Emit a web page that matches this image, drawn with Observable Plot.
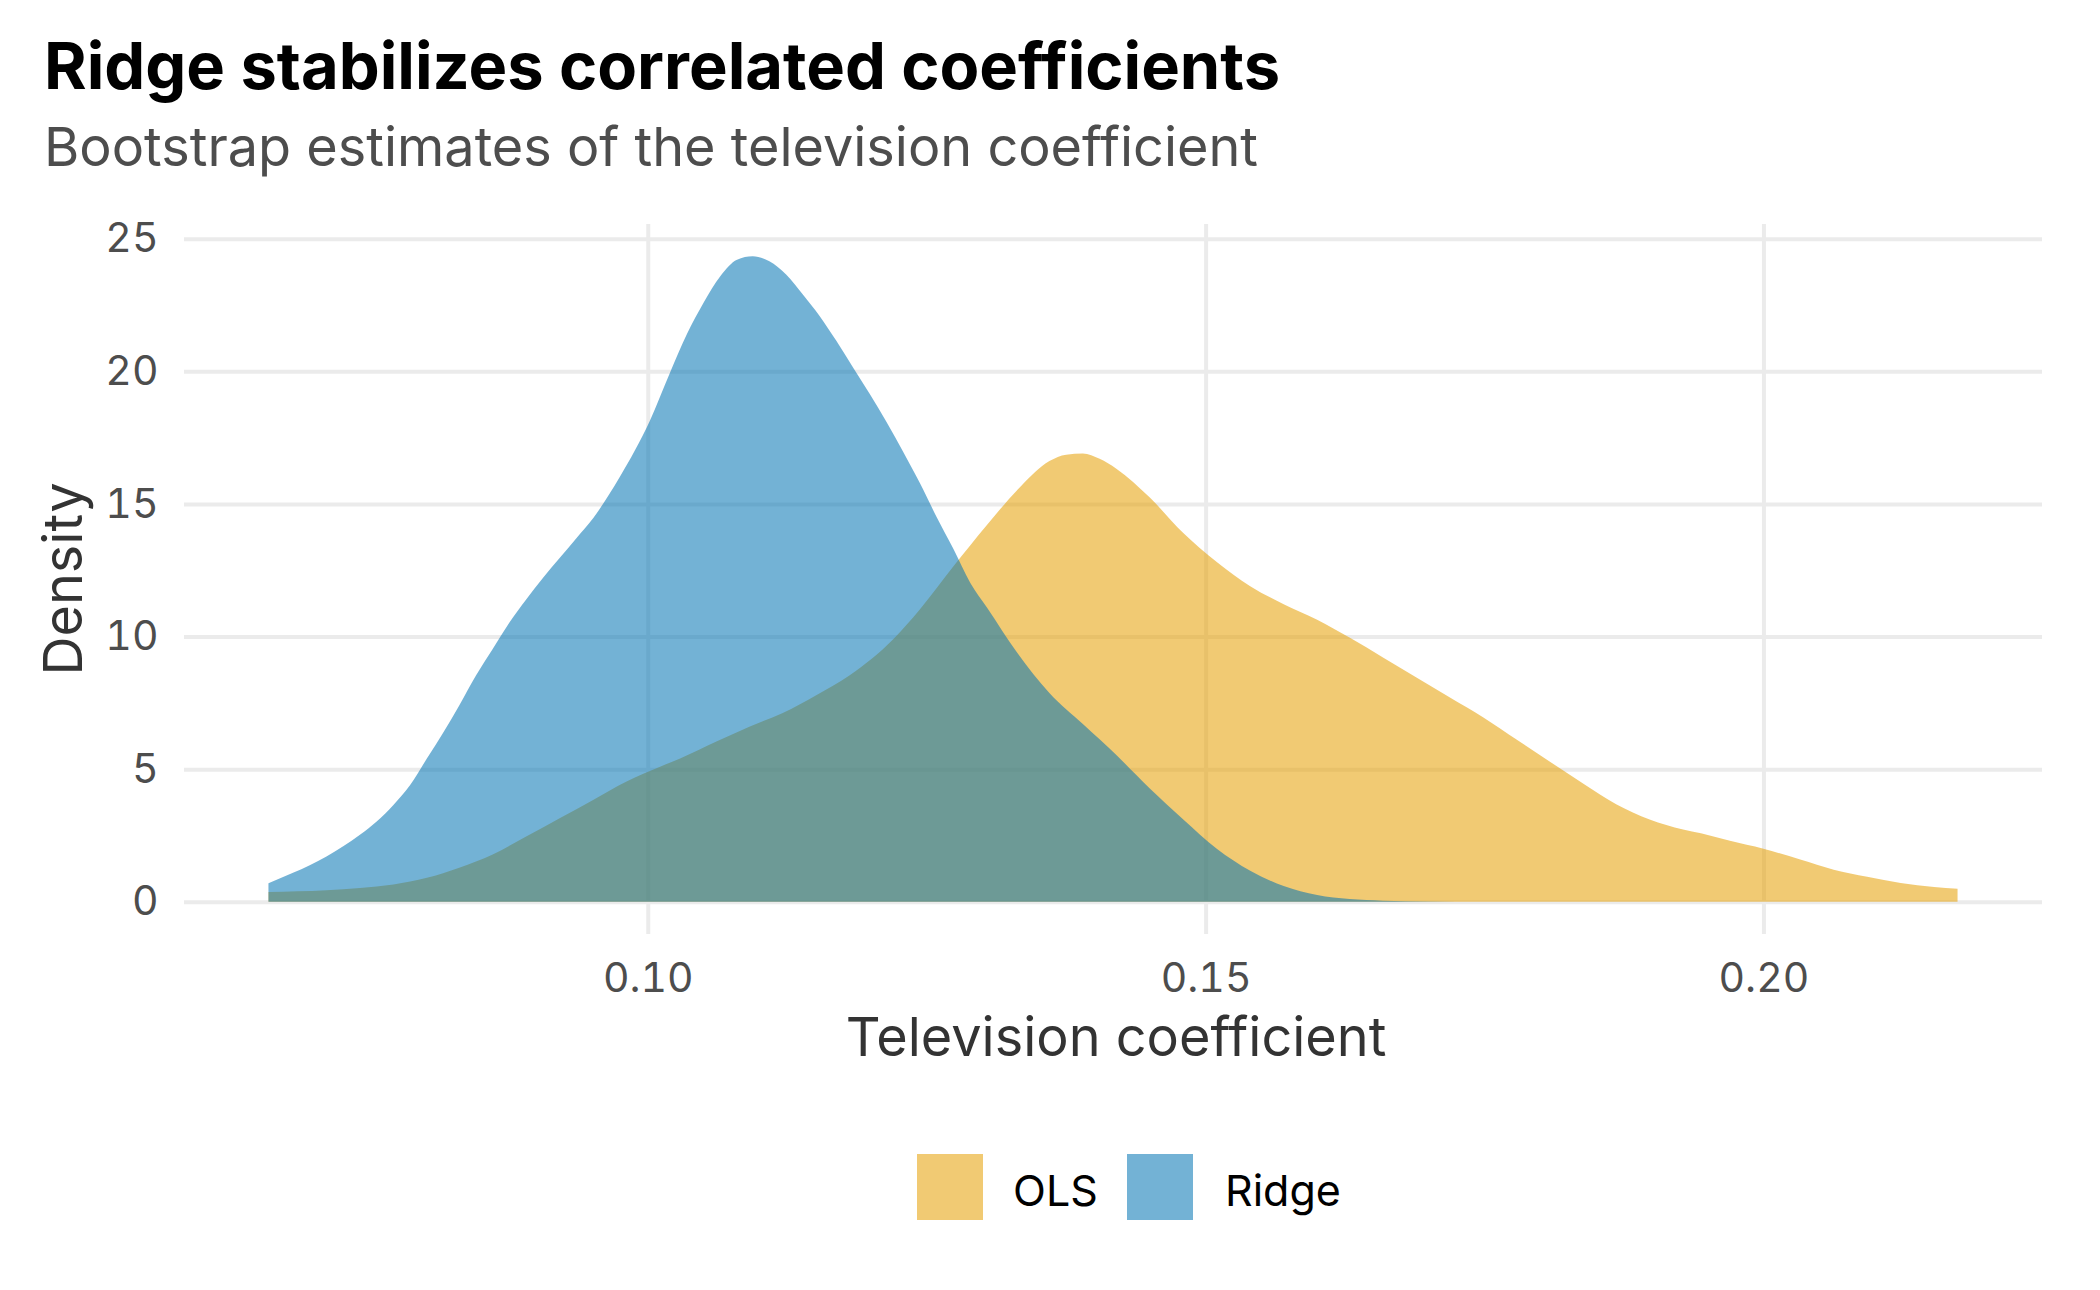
<!DOCTYPE html>
<html>
<head>
<meta charset="utf-8">
<script src="https://cdn.jsdelivr.net/npm/d3@7"></script>
<script src="https://cdn.jsdelivr.net/npm/@observablehq/plot@0.6"></script>
<style>
  html, body { margin: 0; padding: 0; background: #ffffff; }
  #page { position: relative; width: 2100px; height: 1290px; overflow: hidden; font-family: Inter, "Noto Sans", sans-serif; }
  .txt { position: absolute; white-space: nowrap; line-height: 1; }
  .txt > span { position: absolute; left: 0; top: 0; white-space: nowrap; }
  #chart { position: absolute; left: 0; top: 200px; }
  .key { position: absolute; width: 66px; height: 66px; }
</style>
</head>
<body>
<div id="page">
  <div class="txt" style="left:44px; top:89px; font-size:65px; font-weight:700; color:#000;"><span style="transform:translate(0,-0.864em)">Ridge stabilizes correlated coefficients</span></div>
  <div class="txt" style="left:44px; top:167px; font-size:54px; color:#4d4d4d;"><span style="transform:translate(0,-0.864em)">Bootstrap estimates of the television coefficient</span></div>
  <div id="chart"></div>
  <div class="txt" style="left:1116px; top:1057px; font-size:54px; color:#333;"><span style="transform:translate(-50%,-0.864em)">Television coefficient</span></div>
  <div class="txt" style="left:83px; top:579px; font-size:54px; color:#333; transform:rotate(-90deg); transform-origin:0 0;"><span style="transform:translate(-50%,-0.864em)">Density</span></div>
  <div id="legend"></div>
</div>
<script>
// Kernel density of bootstrap estimates of the television coefficient
const olsCoefficient = [
  0.0660, 0.0712, 0.0742, 0.0772, 0.0802, 0.0831, 0.0861, 0.0891, 0.0921, 0.0951,
  0.0981, 0.1011, 0.1029, 0.1062, 0.1091, 0.1121, 0.1151, 0.1181, 0.1220, 0.1244,
  0.1274, 0.1304, 0.1334, 0.1360, 0.1375, 0.1390, 0.1405, 0.1420, 0.1450, 0.1480,
  0.1510, 0.1540, 0.1570, 0.1600, 0.1629, 0.1659, 0.1689, 0.1719, 0.1749, 0.1779,
  0.1809, 0.1839, 0.1868, 0.1898, 0.1928, 0.1944, 0.1970, 0.2000, 0.2033, 0.2063,
  0.2093, 0.2123, 0.2153, 0.2174
];
const olsDensity = [
  0.37, 0.43, 0.52, 0.65, 0.90, 1.28, 1.78, 2.46, 3.15, 3.84,
  4.53, 5.09, 5.40, 6.05, 6.60, 7.12, 7.79, 8.54, 9.90, 11.03,
  12.65, 14.21, 15.65, 16.62, 16.86, 16.90, 16.70, 16.33, 15.24, 13.90,
  12.81, 11.90, 11.22, 10.63, 9.96, 9.21, 8.46, 7.70, 6.95, 6.11,
  5.27, 4.44, 3.68, 3.10, 2.72, 2.58, 2.30, 2.00, 1.59, 1.21,
  0.94, 0.71, 0.56, 0.49
];
const ridgeCoefficient = [
  0.0660, 0.0682, 0.0712, 0.0742, 0.0757, 0.0772, 0.0787, 0.0802, 0.0817, 0.0831,
  0.0846, 0.0861, 0.0876, 0.0891, 0.0906, 0.0921, 0.0936, 0.0951, 0.0966, 0.0975,
  0.1002, 0.1020, 0.1035, 0.1050, 0.1065, 0.1080, 0.1094, 0.1109, 0.1124, 0.1139,
  0.1154, 0.1169, 0.1184, 0.1199, 0.1214, 0.1229, 0.1244, 0.1259, 0.1274, 0.1289,
  0.1304, 0.1331, 0.1360, 0.1390, 0.1420, 0.1450, 0.1480, 0.1510, 0.1540, 0.1570,
  0.1600, 0.1629, 0.1659, 0.1700, 0.1750, 0.1850, 0.2000, 0.2174
];
const ridgeDensity = [
  0.70, 1.09, 1.71, 2.53, 3.03, 3.65, 4.40, 5.40, 6.40, 7.40,
  8.53, 9.53, 10.53, 11.40, 12.21, 12.96, 13.71, 14.46, 15.40, 16.03,
  18.15, 19.96, 21.40, 22.59, 23.59, 24.21, 24.34, 24.15, 23.65, 22.90,
  22.09, 21.15, 20.15, 19.15, 18.09, 16.96, 15.78, 14.50, 13.30, 12.03,
  11.10, 9.40, 7.87, 6.70, 5.53, 4.27, 3.10, 2.00, 1.17, 0.59,
  0.25, 0.10, 0.04, 0.01, 0.00, 0.00, 0.00, 0.00
];
const methods = ["OLS", "Ridge"];
const methodColors = ["#E69F00", "#0072B2"];
const xTicks = [0.10, 0.15, 0.20];
const yTicks = [0, 5, 10, 15, 20, 25];

const rows = [
  ...olsCoefficient.map((c, i) => ({method: "OLS", coefficient: c, density: olsDensity[i]})),
  ...ridgeCoefficient.map((c, i) => ({method: "Ridge", coefficient: c, density: ridgeDensity[i]}))
];

// ggplot-style 5% expansion on both scales
const xMin = d3.min(rows, d => d.coefficient), xMax = d3.max(rows, d => d.coefficient);
const xPad = (xMax - xMin) * 0.05;
const yMax = d3.max(rows, d => d.density);
const yPad = yMax * 0.05;

const grid = {stroke: "#ebebeb", strokeOpacity: 1, strokeWidth: 4};

const chart = Plot.plot({
  width: 2100,
  height: 900,
  marginLeft: 184,
  marginRight: 58,
  marginTop: 24,
  marginBottom: 166,
  style: {fontFamily: "Inter, 'Noto Sans', sans-serif", fontSize: "41px", color: "#4d4d4d", background: "transparent", overflow: "visible"},
  x: {domain: [xMin - xPad, xMax + xPad]},
  y: {domain: [-yPad, yMax + yPad]},
  color: {domain: methods, range: methodColors},
  marks: [
    Plot.gridX(xTicks, grid),
    Plot.gridY(yTicks, grid),
    ...methods.map(m => Plot.areaY(rows.filter(d => d.method === m), {
      x: "coefficient", y: "density", fill: "method",
      fillOpacity: 0.55, curve: "monotone-x"
    })),
    Plot.axisX(xTicks, {tickSize: 0, tickPadding: 28, tickFormat: d3.format(".2f"), label: null, fontSize: 41}),
    Plot.axisY(yTicks, {tickSize: 0, tickPadding: 26, label: null, fontSize: 41})
  ]
});
document.getElementById("chart").appendChild(chart);

// Legend: filled keys with the same translucency as the areas
const legend = document.getElementById("legend");
const keyX = [917, 1127];
const labelX = [1013, 1225];
methods.forEach((m, i) => {
  const key = document.createElement("div");
  key.className = "key";
  key.style.left = keyX[i] + "px";
  key.style.top = "1154px";
  key.style.background = methodColors[i];
  key.style.opacity = 0.55;
  legend.appendChild(key);
  const lab = document.createElement("div");
  lab.className = "txt";
  lab.style.left = labelX[i] + "px";
  lab.style.top = "1206px";
  lab.style.fontSize = "43px";
  lab.style.color = "#000";
  lab.innerHTML = `<span style="transform:translate(0,-0.864em)">${m}</span>`;
  legend.appendChild(lab);
});
</script>
</body>
</html>
